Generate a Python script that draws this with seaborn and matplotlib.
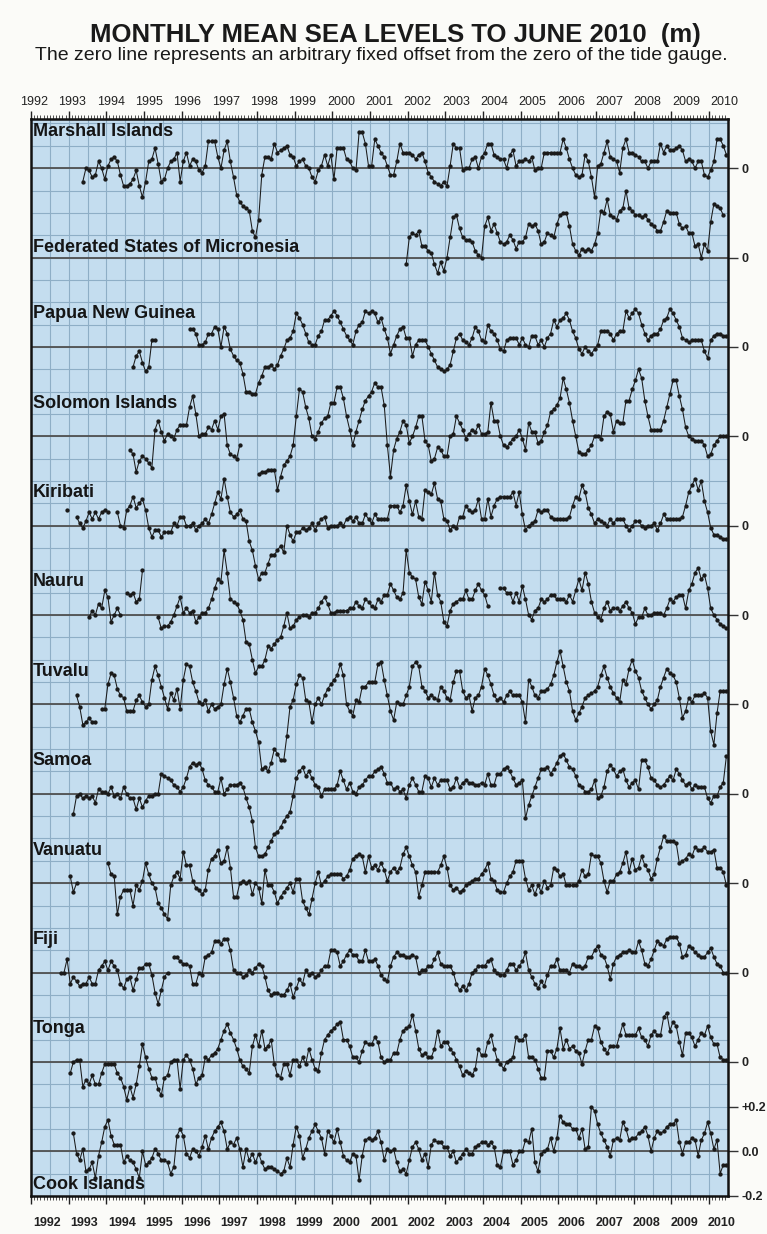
import numpy as np
import pandas as pd
import matplotlib
matplotlib.use("Agg")
import matplotlib.pyplot as plt
import seaborn as sns
from matplotlib import font_manager
from matplotlib.transforms import blended_transform_factory

nan = np.nan

# ---------------- DATA (monthly values in cm relative to each zero line) -------------
ISLANDS = ["Marshall Islands", "Federated States of Micronesia", "Papua New Guinea",
           "Solomon Islands", "Kiribati", "Nauru", "Tuvalu", "Samoa", "Vanuatu",
           "Fiji", "Tonga", "Cook Islands"]

YEARS = list(range(1992, 2011))

MARSHALL_START = 1993
MARSHALL = [
    nan, nan, nan, nan, -6, 0, -1, -4, -3, 3, 0, -5,
    1, 4, 5, 3, -3, -8, -8, -7, -5, -1, -8, -13,
    -6, 3, 4, 9, 2, -6, -5, 0, 3, 4, 7, -6,
    3, 7, 1, 4, 3, -1, -2, 1, 12, 12, 12, 5,
    0, 8, 12, 3, -4, -12, -15, -17, -18, -19, -28, -31,
    -23, -3, 5, 5, 4, 11, 7, 8, 9, 10, 6, 5,
    1, 3, 4, 1, 0, -4, -6, -1, 1, 6, 1, 6,
    -5, 9, 9, 9, 4, 3, 0, -1, 16, 16, 11, 1,
    1, 13, 10, 7, 5, 1, -3, -3, 3, 11, 7, 7,
    7, 6, 4, 6, 7, 3, -2, -4, -6, -7, -8, -6,
    -8, 1, 11, 9, 9, -1, 0, 0, 4, 5, 0, 5,
    7, 11, 11, 6, 5, 4, 4, 0, 6, 8, 1, 3,
    3, 4, 3, 5, -1, 0, 0, 7, 7, 7, 7, 7,
    7, 13, 9, 4, 0, -3, -4, -3, 6, 3, -4, -13,
    1, 2, 7, 12, 5, 4, 3, -2, 9, 13, 7, 7,
    6, 5, 3, 3, 0, 3, 3, 3, 11, 7, 10, 8,
    8, 9, 10, 8, 3, 4, 3, 0, 3, 3, -3, -4,
    -1, 3, 13, 13, 10, 6]

FSM_START = 2001
FSM = [
    nan, nan, nan, nan, nan, nan, nan, nan, nan, nan, nan, -3,
    9, 11, 10, 12, 5, 5, 3, 2, -3, -7, -2, -6,
    0, 9, 18, 19, 13, 9, 8, 8, 7, 3, 1, 0,
    14, 18, 12, 15, 11, 7, 6, 7, 10, 8, 4, 7,
    7, 9, 15, 14, 15, 12, 6, 7, 11, 10, 9, 15,
    19, 20, 20, 14, 6, 3, 1, 4, 3, 4, 3, 6,
    11, 21, 20, 26, 19, 18, 17, 21, 22, 30, 22, 21,
    19, 19, 18, 19, 17, 15, 14, 12, 12, 16, 21, 20,
    20, 20, 15, 13, 14, 11, 11, 5, 6, 0, 6, 3,
    16, 24, 23, 22, 19]

PNG_START = 1994
PNG = [
    nan, nan, nan, nan, nan, nan, nan, nan, -9, -4, -2, -7,
    -11, -9, 3, 3, nan, nan, nan, nan, nan, nan, nan, nan,
    nan, nan, 8, 8, 6, 1, 1, 2, 6, 6, 9, 8,
    0, 9, 6, -1, -4, -6, -7, -12, -20, -20, -21, -21,
    -16, -13, -9, -9, -8, -10, -8, -4, -1, 3, 4, 7,
    15, 13, 10, 6, 2, 1, 1, 5, 7, 12, 12, 14,
    16, 14, 11, 8, 5, 3, 1, 7, 10, 11, 16, 15,
    16, 15, 11, 13, 8, 4, -3, 1, 5, 8, 9, 4,
    4, -4, 1, 3, 3, 3, 0, -3, -6, -9, -10, -11,
    -10, -8, -2, 4, 6, 3, 2, 1, 4, 9, 7, 3,
    2, 10, 7, 6, 3, -1, -2, 3, 4, 4, 4, 1,
    4, 1, 0, 5, 5, 1, 3, 0, 4, 6, 12, 9,
    12, 13, 15, 12, 7, 4, -1, -3, 0, -2, -3, -1,
    1, 7, 7, 7, 6, 3, 6, 7, 7, 16, 13, 15,
    17, 15, 10, 6, 3, 5, 6, 6, 8, 12, 13, 17,
    15, 12, 9, 4, 3, 2, 3, 3, 3, 3, -2, -5,
    3, 5, 6, 6, 5, 5]

SOLOMON_START = 1994
SOLOMON = [
    nan, nan, nan, nan, nan, nan, nan, -6, -8, -16, -11, -9,
    -10, -12, -14, 3, 7, 2, -2, 1, 0, -1, 3, 5,
    5, 5, 13, 18, 10, 0, 1, 1, 4, 3, 7, 3,
    9, 10, -4, -8, -9, -10, -4, nan, nan, nan, nan, nan,
    -17, -16, -16, -15, -15, -15, -24, -18, -13, -11, -9, -4,
    9, 21, 20, 13, 8, 0, -1, 2, 6, 8, 9, 15,
    15, 22, 22, 17, 9, 3, -4, 2, 7, 12, 16, 18,
    20, 24, 22, 22, 14, -4, -18, -6, -1, 2, 7, 5,
    -3, 0, 4, 9, 9, -2, -4, -11, -10, -5, -6, -9,
    -9, 0, 1, 9, 6, 3, -1, 1, 3, 2, 5, 1,
    1, 2, 15, 7, 7, 0, -4, -5, -3, -1, 0, 3,
    -1, -6, 6, 2, 2, -3, -2, 2, 5, 11, 12, 14,
    17, 26, 21, 15, 7, 0, -7, -8, -8, -6, -4, 0,
    0, -1, 9, 11, 10, 2, 7, 6, 6, 16, 16, 21,
    25, 30, 26, 16, 9, 3, 3, 3, 3, 7, 13, 19,
    25, 25, 18, 12, 4, 0, -1, -2, -2, -2, -4, -9,
    -8, -4, -2, 0, 0, 0]

KIRIBATI_START = 1992
KIRIBATI = [
    nan, nan, nan, nan, nan, nan, nan, nan, nan, nan, nan, 7,
    nan, nan, 4, 1, -1, 2, 6, 3, 6, 3, 6, 7,
    6, nan, nan, 6, 0, -1, 7, 9, 13, 8, 10, 12,
    7, -1, -5, -2, -2, -5, -3, -3, -3, 1, 0, 4,
    4, 0, 0, 1, -2, 0, 1, 3, 1, 5, 10, 15,
    12, 21, 13, 6, 4, 5, 7, 3, 2, -7, -11, -18,
    -24, -21, -21, -17, -13, -13, -11, -9, -12, 0, -4, -7,
    -3, -3, -1, -2, -1, 1, -2, 1, 3, 4, -1, 0,
    0, 0, 1, 0, 3, 4, 2, 4, 1, 1, 5, 3,
    1, 5, 3, 3, 3, 3, 9, 9, 9, 6, 9, 18,
    11, 5, 11, 4, 3, 16, 15, 14, 19, 12, 11, 3,
    2, -2, 0, -1, 4, 4, 9, 7, 6, 7, 12, 3,
    3, 12, 4, 9, 12, 13, 13, 13, 13, 15, 9, 15,
    5, -2, 0, 1, 2, 7, 6, 7, 7, 4, 3, 3,
    3, 3, 3, 4, 9, 13, 12, 18, 15, 8, 5, 1,
    3, 2, 1, 0, 3, 1, 3, 3, 3, 0, -2, 0,
    2, 2, 0, -1, 0, 0, 1, -2, 1, 5, 3, 3,
    3, 3, 3, 4, 9, 15, 18, 21, 16, 20, 11, 6,
    -1, -4, -4, -5, -6, -6]

NAURU_START = 1993
NAURU = [
    nan, nan, nan, nan, nan, nan, -1, 2, 0, 5, 3, 11,
    8, -3, 0, 3, 0, nan, 10, 9, 10, 6, 7, 20,
    nan, nan, nan, nan, -1, -6, -5, -5, -3, 0, 4, 8,
    1, 3, 1, 2, -3, -1, 1, 1, 3, 7, 12, 16,
    15, 29, 19, 7, 6, 5, 2, -2, -12, -13, -20, -26,
    -23, -23, -20, -14, -15, -13, -11, -10, -5, 1, -6, -5,
    -2, -1, 0, 0, -1, 1, 1, 3, 6, 8, 5, 1,
    1, 2, 2, 2, 2, 3, 3, 6, 4, 3, 7, 6,
    4, 3, 7, 6, 9, 9, 14, 11, 8, 7, 10, 29,
    19, 17, 16, 8, 5, 15, 11, 6, 19, 9, 6, -3,
    -5, 2, 5, 6, 7, 7, 11, 7, 7, 11, 14, 11,
    9, 4, nan, nan, nan, 12, 12, 10, 10, 6, 10, 6,
    13, 7, 0, -2, 2, 3, 7, 6, 7, 9, 9, 7,
    7, 7, 6, 9, 6, 11, 16, 11, 19, 14, 6, 1,
    -1, -2, 3, 6, 2, 3, 3, 2, 4, 6, 3, 1,
    -4, -1, -1, 3, 0, 0, 1, 1, 1, 0, 3, 7,
    6, 8, 9, 9, 3, 11, 14, 19, 21, 16, 18, 12,
    3, 0, -2, -4, -5, -6]

TUVALU_START = 1993
TUVALU = [
    nan, nan, 4, -1, -9, -8, -6, -8, -8, nan, -2, -2,
    9, 14, 13, 7, 4, 3, -3, -3, -3, 2, 4, 1,
    -1, 0, 11, 17, 13, 8, 3, -2, 5, 2, 7, -2,
    11, 18, 17, 10, 6, 1, 0, 2, -3, 0, -2, -1,
    0, 9, 16, 10, 3, -5, -8, -5, -2, -2, -8, -12,
    -17, -29, -28, -30, -26, -20, -22, -25, -25, -14, -1, 2,
    9, 13, 12, 2, 1, -8, 0, 3, 0, 4, 7, 9,
    11, 13, 18, 13, 0, -3, -5, 2, 1, 8, 8, 10,
    10, 10, 18, 19, 11, 4, -3, -7, 1, 0, 0, 4,
    8, 17, 19, 17, 8, 6, 3, 4, 3, 2, 8, 6,
    3, 2, 10, 15, 15, 6, 3, 4, -3, 3, 4, 8,
    16, 13, 9, 4, 2, 3, 1, 4, 6, 4, 4, 4,
    1, -8, 11, 8, 4, 3, 6, 6, 7, 9, 13, 19,
    24, 17, 10, 6, -3, -7, -4, -1, 3, 4, 5, 6,
    8, 13, 17, 12, 8, 5, 3, 1, 11, 9, 16, 20,
    15, 12, 6, 3, 0, -2, 0, 2, 8, 12, 16, 14,
    13, 10, 3, -6, -3, 3, 1, 4, 4, 4, 5, 3,
    -12, -18, -4, 6, 6, 6]

SAMOA_START = 1993
SAMOA = [
    nan, -9, -1, 0, -2, -1, -2, -1, -4, 2, 1, 1,
    0, 3, -1, 0, -2, 3, 0, -2, -2, -7, -2, -6,
    -3, -1, -1, 0, 0, 9, 8, 7, 6, 4, 3, 1,
    3, 7, 12, 14, 13, 14, 11, 6, 4, 3, 1, 1,
    7, 0, 2, 4, 4, 4, 5, 3, -2, -6, -12, -24,
    -28, -28, -27, -24, -21, -18, -17, -15, -12, -10, -8, -1,
    7, 10, 12, 8, 10, 7, 4, 3, -1, 2, 2, 2,
    2, 4, 10, 6, 2, 5, 1, 0, 3, 4, 6, 8,
    8, 10, 11, 12, 9, 5, 5, 2, 3, 1, 2, -2,
    4, 7, 4, 1, 1, 8, 7, 3, 7, 4, 6, 6,
    6, 2, 3, 7, 3, 5, 6, 5, 5, 4, 4, 5,
    4, 9, 4, 4, 9, 9, 11, 12, 10, 7, 4, 5,
    6, -11, -5, -1, 3, 7, 11, 11, 12, 9, 11, 14,
    17, 18, 15, 12, 11, 8, 4, 3, 1, 1, 2, 6,
    -2, -1, 3, 10, 13, 11, 8, 10, 11, 6, 3, 5,
    6, 2, 15, 15, 12, 7, 6, 4, 3, 4, 6, 8,
    6, 11, 9, 6, 4, 5, 2, 4, 3, 3, 3, -2,
    -4, -1, -1, 3, 5, 17]

VANUATU_START = 1993
VANUATU = [
    3, -4, 0, nan, nan, nan, nan, nan, nan, nan, nan, nan,
    9, 4, 3, -14, -6, -3, -3, -3, -10, -1, -3, 1,
    9, 4, 0, -2, -9, -11, -14, -16, -1, 3, 5, 2,
    14, 8, 8, 1, -2, -3, -5, -3, 6, 11, 12, 15,
    9, 10, 16, 7, -6, -6, 0, 1, 0, 1, -5, 0,
    -2, -9, 6, -1, -1, -4, -9, -6, -4, -2, 0, -4,
    2, 2, -8, -11, -14, -7, 0, 5, -1, 1, 3, 4,
    4, 4, 4, 2, 3, 6, 11, 12, 13, 12, 5, 12,
    7, 8, 6, 9, 6, 1, 5, 7, 5, 7, 13, 16,
    12, 8, 5, -6, -1, 5, 5, 5, 5, 5, 8, 12,
    7, -1, -3, -2, -4, -3, -1, 0, 1, 2, 2, 4,
    6, 9, 2, 1, -3, -4, -4, 0, 3, 5, 10, 10,
    10, 2, -3, -1, -5, -1, -4, 1, -2, -1, 7, 6,
    3, 4, -1, -1, -1, -1, 1, 6, 3, 4, 13, 12,
    12, 9, 1, -4, 1, 1, 4, 5, 9, 14, 5, 11,
    6, 7, 12, 8, 6, 2, 4, 11, 16, 21, 19, 19,
    19, 18, 9, 10, 11, 13, 12, 16, 15, 15, 16, 14,
    14, 15, 7, 7, 5, -1]

FIJI_START = 1992
FIJI = [
    nan, nan, nan, nan, nan, nan, nan, nan, nan, 0, 0, 6,
    -5, -2, -4, -6, -5, -5, -2, -5, -5, 1, 3, 5,
    1, 5, 3, 1, -5, -7, -3, -2, -8, -3, 2, 2,
    4, 4, -1, -9, -14, -8, -2, 0, nan, 7, 7, 5,
    4, 4, 3, -5, -5, 0, -1, 7, 8, 9, 14, 14,
    13, 15, 15, 10, 1, 0, 0, -2, -1, 1, 0, 2,
    4, 3, -2, -8, -10, -9, -9, -10, -10, -8, -5, -11,
    -7, -3, -5, 1, -1, 0, -2, -1, 1, 3, 3, 10,
    10, 9, 3, 5, 8, 10, 8, 8, 5, 5, 10, 5,
    5, 6, 3, -1, -3, -4, 3, 7, 9, 8, 8, 7,
    7, 8, 7, 0, 1, 1, 3, 3, 6, 9, 4, 3,
    3, 3, 0, -5, -8, -6, -8, -5, 0, 1, 3, 3,
    3, 5, 6, 1, 0, -1, -1, 1, 4, 4, 1, 3,
    5, 9, 1, -2, -5, -7, -4, -6, -1, 3, 3, 6,
    1, 1, 1, 0, 4, 3, 3, 2, 3, 7, 7, 10,
    12, 8, 7, 3, -3, 4, 7, 8, 9, 9, 10, 9,
    9, 14, 10, 4, 3, 6, 10, 14, 13, 12, 15, 16,
    16, 16, 13, 7, 8, 12, 11, 9, 8, 7, 7, 9,
    11, 7, 4, 3, 0, 0]

TONGA_START = 1993
TONGA = [
    -5, 0, 1, 1, -11, -8, -10, -6, -10, -10, -5, -1,
    -1, -1, -1, -5, -7, -11, -17, -11, -16, -10, -2, 8,
    2, -3, -7, -7, -12, -15, -7, -6, 0, 1, 1, -12,
    1, 3, 1, -3, -10, -7, -6, 2, 1, 3, 4, 6,
    10, 14, 17, 13, 10, 6, 1, -2, -3, -5, 7, 12,
    7, 14, 6, 7, 10, -1, -6, -7, -1, -1, -6, 1,
    1, -2, 2, -1, 6, 1, -3, -4, 4, 10, 12, 14,
    15, 17, 18, 10, 10, 7, 2, 2, 0, 5, 9, 8,
    8, 11, 9, 2, 0, 1, 1, 4, 4, 10, 14, 15,
    16, 21, 14, 6, 3, 4, 2, 2, 6, 14, 7, 9,
    9, 6, 4, 1, -2, -6, -4, -5, -6, -3, 6, 3,
    3, 9, 12, 6, 1, -1, -3, 0, 1, 2, 11, 10,
    10, 12, 2, 2, 1, -3, -7, -7, 5, 5, 2, 6,
    15, 6, 10, 6, 7, 5, 4, -1, 5, 10, 10, 16,
    15, 9, 6, 4, 7, 7, 7, 12, 17, 12, 12, 12,
    12, 15, 11, 10, 7, 12, 14, 12, 12, 20, 22, 14,
    18, 16, 9, 3, 13, 13, 11, 7, 10, 13, 12, 16,
    11, 8, 8, 2, 1, 1]

COOK_START = 1993
COOK = [
    nan, 8, -1, -4, 1, -9, -8, -5, -12, -2, 4, 11,
    14, 7, 3, 3, 3, -5, -2, -4, -5, -8, -12, 0,
    -6, -5, -3, 1, -1, -4, -4, -5, -10, -7, 7, 10,
    7, -1, -3, 1, 0, -2, 2, 7, 1, 6, 9, 11,
    13, 9, 1, 4, 3, 6, 1, -7, 1, -4, -1, -5,
    -1, -5, -8, -7, -7, -8, -9, -10, -9, -3, -7, 3,
    11, 7, -3, 1, 6, 9, 12, 9, 6, -1, 9, 7,
    4, 10, 4, -2, -4, -5, -1, -2, -13, -2, 5, 6,
    5, 6, 9, 4, -4, 1, 0, 1, -5, -9, -8, -10,
    -4, 2, 4, 1, -4, -1, -7, 3, 5, 4, 4, 2,
    2, -2, 0, -5, -3, -1, 1, -1, -1, 2, 3, 4,
    4, 3, 4, 2, -6, -7, 0, 0, 0, -6, -4, 0,
    0, 5, 4, 10, -5, -9, -1, 0, 1, 6, 0, 6,
    16, 13, 12, 12, 10, 10, 6, 10, 1, 2, 20, 18,
    12, 8, 5, 2, -2, 5, 6, 5, 13, 10, 5, 6,
    6, 8, 9, 11, 7, 0, 6, 9, 8, 9, 11, 12,
    12, 14, 4, -1, 4, 4, 6, 5, -2, 5, 8, 13,
    8, 1, 5, -10, -6, -6]

SERIES = [(MARSHALL_START, MARSHALL), (FSM_START, FSM), (PNG_START, PNG),
          (SOLOMON_START, SOLOMON), (KIRIBATI_START, KIRIBATI), (NAURU_START, NAURU),
          (TUVALU_START, TUVALU), (SAMOA_START, SAMOA), (VANUATU_START, VANUATU),
          (FIJI_START, FIJI), (TONGA_START, TONGA), (COOK_START, COOK)]

TITLE = "MONTHLY MEAN SEA LEVELS TO JUNE 2010  (m)"
SUBTITLE = "The zero line represents an arbitrary fixed offset from the zero of the tide gauge."

# ---------------- build long table ----------------
SPACING = 0.4
n = len(ISLANDS)
rows = []
seg = 0
for i, (name, (start, vals)) in enumerate(zip(ISLANDS, SERIES)):
    off = SPACING * (n - 1 - i)
    prev_ok = False
    for k, v in enumerate(vals):
        if np.isnan(v):
            prev_ok = False
            continue
        if not prev_ok:
            seg += 1
        prev_ok = True
        yr = start + k // 12
        mo = k % 12 + 1
        rows.append({"island": name, "x": yr + (mo - 0.5) / 12.0,
                     "y": off + v / 100.0, "seg": seg})
df = pd.DataFrame(rows)

# ---------------- fonts ----------------
names = {f.name for f in font_manager.fontManager.ttflist}
NARROW = "Liberation Sans Narrow" if "Liberation Sans Narrow" in names else "Liberation Sans"
SANS = "Liberation Sans"

sns.set_theme(style="white")
plt.rcParams["font.family"] = [SANS, "DejaVu Sans"]

fig = plt.figure(figsize=(7.67, 12.34), dpi=100, facecolor="#fbfbf8")
L, R, T, B = 31, 728, 119, 1196
W, H = 767.0, 1234.0
ax = fig.add_axes([L / W, 1 - B / H, (R - L) / W, (B - T) / H])
ax.set_facecolor("#c4ddef")

XMIN, XMAX = 1992.0, 2010.5
YMIN, YMAX = -0.2, SPACING * (n - 1) + 0.22
ax.set_xlim(XMIN, XMAX)
ax.set_ylim(YMIN, YMAX)

# grid
for gx in np.arange(1992.5, 2010.5, 0.5):
    ax.axvline(gx, color="#8eaec6", lw=0.8, zorder=1)
for gy in np.arange(-0.1, YMAX, 0.1):
    ax.axhline(gy, color="#8eaec6", lw=0.8, zorder=1)
for i in range(n):
    ax.axhline(SPACING * (n - 1 - i), color="#505050", lw=1.3, zorder=2)

sns.lineplot(data=df, x="x", y="y", units="seg", estimator=None, sort=False,
             color="#1a1a1a", lw=0.75, marker="o", markersize=3.1,
             markeredgewidth=0, legend=False, ax=ax, zorder=3)
ax.set_xlabel("")
ax.set_ylabel("")

# island labels
label_dy = {0: 0.166, 1: 0.045, n - 1: -0.148}
for i, name in enumerate(ISLANDS):
    off = SPACING * (n - 1 - i)
    ax.text(1992.04, off + label_dy.get(i, 0.148), name, ha="left", va="center",
            fontsize=13, fontweight="bold", color="#151515", zorder=5,
            family=[SANS, "DejaVu Sans"])

# spines
for s in ax.spines.values():
    s.set_visible(True)
    s.set_color("#111111")
    s.set_linewidth(1.8)

# x ticks: years major, months minor, top and bottom
ax.set_xticks(YEARS)
ax.set_xticks(np.arange(1992, 2010.5, 1 / 12.0), minor=True)
ax.tick_params(axis="x", which="major", top=True, bottom=True, direction="out",
               length=6, width=1.0, color="#222222", labelbottom=False, labeltop=False)
ax.tick_params(axis="x", which="minor", top=True, bottom=True, direction="out",
               length=3, width=0.6, color="#333333")

# y ticks on right
yt = [SPACING * (n - 1 - i) for i in range(n)] + [-0.2, 0.2]
yl = ["0"] * (n - 1) + ["0.0", "-0.2", "+0.2"]
ax.set_yticks(yt)
ax.set_yticklabels(yl)
ax.tick_params(axis="y", which="major", left=False, right=True, labelleft=False,
               labelright=True, direction="out", length=7, width=1.0,
               color="#333333", labelsize=9, pad=3)
for t in ax.get_yticklabels():
    t.set_fontweight("bold")
    t.set_color("#222222")

# year labels
trans = blended_transform_factory(ax.transData, ax.transAxes)
for j, yr in enumerate(YEARS):
    ax.text(yr + 0.42 - 0.005 * j, -0.025, str(yr), transform=trans, ha="center",
            va="center", fontsize=9, fontweight="bold", color="#222222",
            family=[SANS, "DejaVu Sans"], clip_on=False)
    ax.text(yr + 0.08 + 0.018 * j, 1.0158, str(yr), transform=trans, ha="center",
            va="center", fontsize=9, color="#222222",
            family=[NARROW, "DejaVu Sans"], clip_on=False)

# titles
fig.text(0.515, 1 - 35 / H, TITLE, ha="center", va="center", fontsize=18.5,
         fontweight="bold", color="#1a1a1a", family=[NARROW, "DejaVu Sans"])
fig.text(0.497, 1 - 56 / H, SUBTITLE, ha="center", va="center", fontsize=14,
         color="#1a1a1a", family=[NARROW, "DejaVu Sans"])

fig.savefig("out.png", dpi=100, facecolor=fig.get_facecolor())
